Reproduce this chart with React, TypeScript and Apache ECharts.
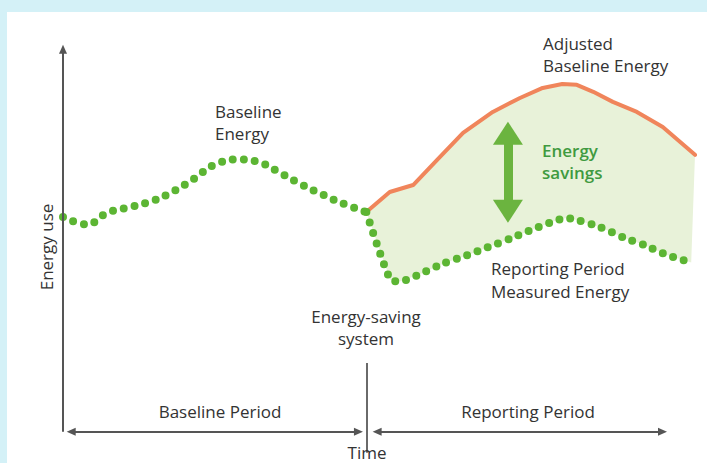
import React, { useEffect, useRef } from "react";
import * as echarts from "echarts";

// [time, energy] pairs (time 0..100, energy 0..100)
const baselineEnergy: [number, number][] = [
  [0, 55.5], [3.8, 53.6], [7, 56.6], [10.6, 58.1], [14.2, 59.7], [17.6, 62.3],
  [20.7, 65.4], [23.9, 69.0], [27.5, 70.4], [31.2, 69.6], [34.5, 66.8],
  [37.8, 63.9], [41.1, 61.3], [44.6, 58.8], [48, 56.8],
];
const measuredEnergy: [number, number][] = [
  [48, 56.8], [51.8, 39.3], [53.4, 38.9], [56.8, 41.0], [60.3, 43.6], [63.9, 45.6],
  [67.2, 47.7], [70.9, 50.0], [74.4, 52.4], [77.8, 54.5], [79.6, 55.3],
  [81.5, 54.7], [85.0, 52.9], [88.6, 50.3], [92.1, 48.2], [95.6, 45.7], [99.4, 43.8],
];
const adjustedBaseline: [number, number][] = [
  [48, 56.8], [51.7, 62.0], [55.4, 63.8], [59.2, 70.3], [63.3, 77.3], [68.0, 82.7],
  [72.3, 86.3], [75.9, 88.9], [79.0, 89.9], [81.3, 89.7], [83.9, 87.9],
  [87.0, 85.3], [90.8, 82.7], [94.9, 78.8], [100, 71.6],
];
const savingsArrow: [number, number][] = [[70.4, 77.2], [70.4, 57.0]];
const energyAxis: [number, number][] = [[0, 0], [0, 98.9]];
const baselinePeriodArrow: [number, number][] = [[1.3, 0], [46.75, 0]];
const reportingPeriodArrow: [number, number][] = [[49.7, 0], [94.86, 0]];
const timeMarker: [number, number][] = [[48.05, -5.4], [48.05, 17.8]];

const labelBaseline = ["Baseline", "Energy"];
const labelAdjusted = ["Adjusted", "Baseline Energy"];
const labelSavings = ["Energy", "savings"];
const labelMeasured = ["Reporting Period", "Measured Energy"];
const labelSystem = ["Energy-saving", "system"];
const labelBaselinePeriod = "Baseline Period";
const labelReportingPeriod = "Reporting Period";
const labelTime = "Time";
const labelEnergyUse = "Energy use";

const GREEN_DOT = "#5cb533";
const ORANGE = "#f0855b";
const FILL = "#e8f2d9";
const AXIS = "#555555";
const TEXT = "#333333";
const FONT = '17px "Open Sans"';

function txt(text: string, x: number, y: number, align = "left", extra: any = {}) {
  return {
    type: "text",
    x,
    y,
    z: 20,
    silent: true,
    ...extra,
    style: {
      text,
      fill: extra.fill || TEXT,
      font: extra.font || FONT,
      align,
      textAlign: align,
      verticalAlign: "middle",
      textVerticalAlign: "middle",
    },
  };
}

export default function App() {
  const ref = useRef<HTMLDivElement>(null);
  useEffect(() => {
    document.body.style.margin = "0";
    if (!ref.current) return;
    const chart = echarts.init(ref.current, undefined, { renderer: "svg" });
    const arrowEnd = (p: [number, number], size: number[]) => ({
      coord: p,
      symbol: "triangle",
      symbolSize: size,
    });
    const axisStyle = { color: AXIS, width: 2, type: "solid" };
    const option: any = {
      animation: false,
      backgroundColor: "#d4f1f7",
      grid: { left: 63, right: 12, top: 45, bottom: 8 },
      xAxis: { type: "value", min: 0, max: 100, show: false },
      yAxis: { type: "value", min: -6, max: 100, show: false },
      graphic: [
        {
          type: "rect",
          z: 0,
          silent: true,
          shape: { x: 7, y: 12, width: 700, height: 451 },
          style: { fill: "#ffffff" },
        },
        txt(labelBaseline[0], 215, 111.5),
        txt(labelBaseline[1], 215, 133.5),
        txt(labelAdjusted[0], 543, 43.5),
        txt(labelAdjusted[1], 543, 65.5),
        txt(labelSavings[0], 542, 150.5, "left", { fill: "#3f9a40", font: '600 17px "Open Sans"' }),
        txt(labelSavings[1], 542, 172.5, "left", { fill: "#3f9a40", font: '600 17px "Open Sans"' }),
        txt(labelMeasured[0], 491, 268.5),
        txt(labelMeasured[1], 491, 291.5),
        txt(labelSystem[0], 366, 316.5, "center"),
        txt(labelSystem[1], 366, 338.5, "center"),
        txt(labelBaselinePeriod, 220, 411.5, "center"),
        txt(labelReportingPeriod, 528, 411.5, "center"),
        txt(labelTime, 367, 452, "center"),
        txt(labelEnergyUse, 46, 247, "center", { rotation: Math.PI / 2 }),
      ],
      series: [
        {
          type: "custom",
          z: 1,
          silent: true,
          data: [[50, 50]],
          renderItem: (params: any, api: any) => {
            if (params.dataIndex !== 0) return null;
            const pts = [
              ...adjustedBaseline.map((p) => api.coord(p)),
              ...measuredEnergy.slice().reverse().map((p) => api.coord(p)),
            ];
            return { type: "polygon", shape: { points: pts }, style: { fill: FILL } };
          },
        },
        {
          name: "Adjusted Baseline Energy",
          type: "line",
          z: 3,
          data: adjustedBaseline,
          symbol: "none",
          silent: true,
          lineStyle: { color: ORANGE, width: 4, cap: "round", join: "round" },
          markLine: {
            silent: true,
            label: { show: false },
            emphasis: { disabled: true },
            data: [
              [
                arrowEnd(savingsArrow[0], [30, 23]),
                { ...arrowEnd(savingsArrow[1], [30, 23]), lineStyle: { color: "#6bb43f", width: 9, type: "solid" } },
              ],
            ],
          },
        },
        {
          name: "Baseline Energy",
          type: "line",
          z: 4,
          data: baselineEnergy,
          symbol: "none",
          silent: true,
          smooth: 0.4,
          lineStyle: { color: GREEN_DOT, width: 8, type: [0, 11], cap: "round" },
          markLine: {
            silent: true,
            label: { show: false },
            emphasis: { disabled: true },
            data: [
              [
                { coord: energyAxis[0], symbol: "none" },
                { ...arrowEnd(energyAxis[1], [8, 9]), lineStyle: axisStyle },
              ],
              [
                arrowEnd(baselinePeriodArrow[0], [8, 9]),
                { ...arrowEnd(baselinePeriodArrow[1], [8, 9]), lineStyle: axisStyle },
              ],
              [
                arrowEnd(reportingPeriodArrow[0], [8, 9]),
                { ...arrowEnd(reportingPeriodArrow[1], [8, 9]), lineStyle: axisStyle },
              ],
              [
                { coord: timeMarker[0], symbol: "none" },
                { coord: timeMarker[1], symbol: "none", lineStyle: { color: "#6a6a6a", width: 2, type: "solid" } },
              ],
            ],
          },
        },
        {
          name: "Reporting Period Measured Energy",
          type: "line",
          z: 4,
          data: measuredEnergy,
          symbol: "none",
          silent: true,
          smooth: 0.2,
          lineStyle: { color: GREEN_DOT, width: 8, type: [0, 11], cap: "round" },
        },
      ],
    };
    chart.setOption(option);
    return () => chart.dispose();
  }, []);
  return <div ref={ref} style={{ width: 707, height: 463 }} />;
}
